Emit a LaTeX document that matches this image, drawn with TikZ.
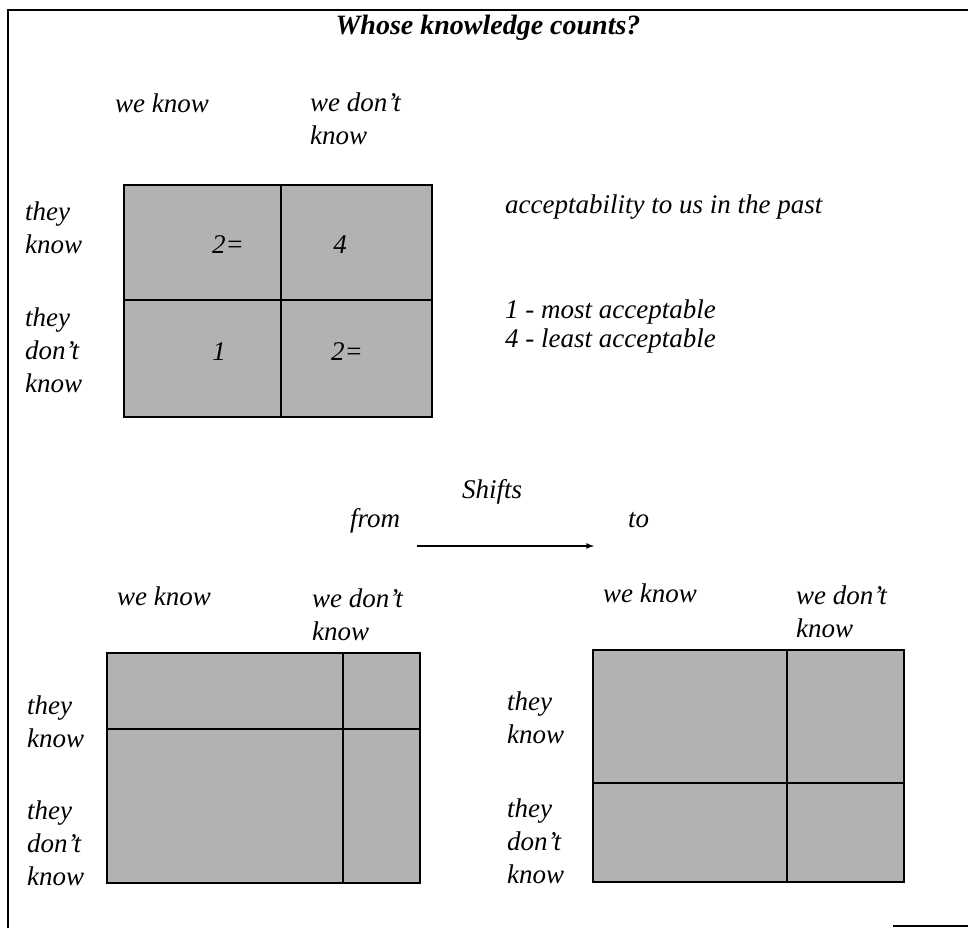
\documentclass[tikz,border=0pt]{standalone}
\usepackage{fontspec}
\setmainfont{Liberation Serif}
\begin{document}
\begin{tikzpicture}[
    x=1pt, y=-1pt,
    every node/.style={inner sep=0pt, font=\fontsize{27}{33}\selectfont\itshape},
    lbl/.style={anchor=base west, align=left},
    cellnum/.style={anchor=base},
    heading/.style={anchor=base, font=\fontsize{28}{33}\selectfont\bfseries\itshape},
    quad/.style={draw, fill=black!30, line width=2.6pt},
    divider/.style={draw, line width=2.2pt},
    border/.style={draw, line width=2.4pt},
    shiftarrow/.style={draw, -latex, line width=1.6pt}
]
\useasboundingbox (0,0) rectangle (968,928);
% page frame
\draw[border] (8,928) -- (8,10) -- (968,10);
\draw[border] (893,926) -- (968,926);

\node[heading] (title) at (488,35) {Whose knowledge counts?};

% past: ranked grid (multi-line labels sit on their last baseline)
\draw[quad] (124,185) rectangle (432,417);
\draw[divider] (281,185) -- (281,417);
\draw[divider] (124,300) -- (432,300);
\node[lbl] (pwk) at (115,113) {we know};
\node[lbl] (pwdk) at (310,145) {we don't\\know};
\node[lbl] (ptk) at (25,253) {they\\know};
\node[lbl] (ptdk) at (25,392) {they\\don't\\know};
\node[cellnum] (c11) at (228,253) {2=};
\node[cellnum] (c12) at (340,253) {4};
\node[cellnum] (c21) at (219,360) {1};
\node[cellnum] (c22) at (347,360) {2=};
\node[lbl] (accept) at (505,213) {acceptability to us in the past};
\node[lbl] (most) at (505,318) {1 - most acceptable};
\node[lbl] (least) at (505,347) {4 - least acceptable};

% shift
\node[cellnum] (shifts) at (492,498) {Shifts};
\node[lbl] (from) at (350,527) {from};
\node[lbl] (to) at (628,527) {to};
\coordinate (tail) at (417,546);
\coordinate (head) at (594,546);
\draw[shiftarrow] (tail) -- (head);

% from grid
\draw[quad] (107,653) rectangle (420,883);
\draw[divider] (343,653) -- (343,883);
\draw[divider] (107,729) -- (420,729);
\node[lbl] (fwk) at (117,605) {we know};
\node[lbl] (fwdk) at (312,640) {we don't\\know};
\node[lbl] (ftk) at (27,747) {they\\know};
\node[lbl] (ftdk) at (27,885) {they\\don't\\know};

% to grid
\draw[quad] (593,650) rectangle (904,882);
\draw[divider] (787,650) -- (787,882);
\draw[divider] (593,783) -- (904,783);
\node[lbl] (twk) at (603,602) {we know};
\node[lbl] (twdk) at (796,637) {we don't\\know};
\node[lbl] (ttk) at (507,743) {they\\know};
\node[lbl] (ttdk) at (507,883) {they\\don't\\know};
\end{tikzpicture}
\end{document}
